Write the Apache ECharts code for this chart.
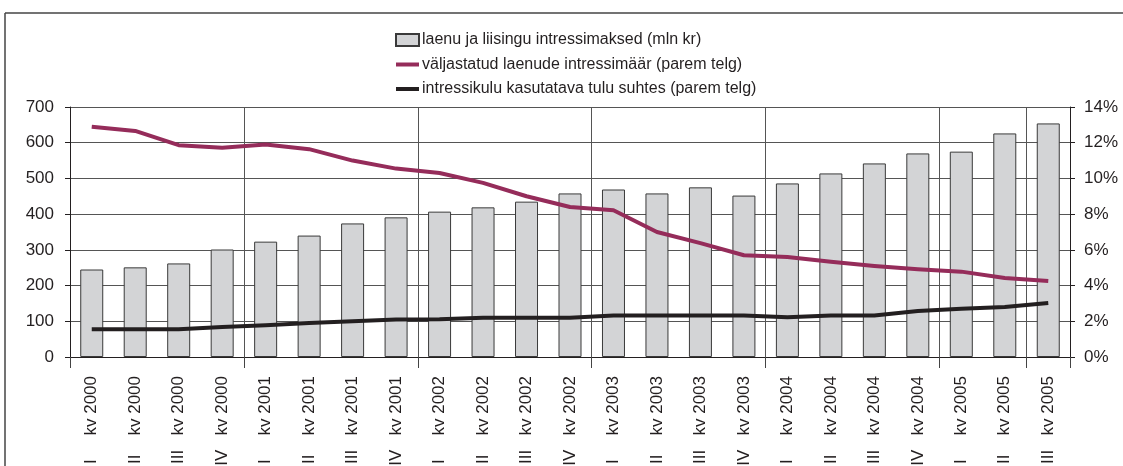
<!DOCTYPE html>
<html>
<head>
<meta charset="utf-8">
<script src="https://cdn.jsdelivr.net/npm/echarts@6/dist/echarts.min.js"></script>
<style>
  html, body { margin: 0; padding: 0; background: #fff; }
  #chart { width: 1123px; height: 466px; }
</style>
</head>
<body>
<div id="chart"></div>
<script>
//////////Data
var categories = [
  'I kv 2000', 'II kv 2000', 'III kv 2000', 'IV kv 2000',
  'I kv 2001', 'II kv 2001', 'III kv 2001', 'IV kv 2001',
  'I kv 2002', 'II kv 2002', 'III kv 2002', 'IV kv 2002',
  'I kv 2003', 'II kv 2003', 'III kv 2003', 'IV kv 2003',
  'I kv 2004', 'II kv 2004', 'III kv 2004', 'IV kv 2004',
  'I kv 2005', 'II kv 2005', 'III kv 2005'
];
// laenu ja liisingu intressimaksed (mln kr)
var intressimaksed = [245, 251, 262, 301, 323, 340, 374, 391, 407, 419, 435, 458,
  469, 458, 475, 452, 486, 514, 542, 570, 575, 626, 654];
// väljastatud laenude intressimäär (%)
var intressimaar = [12.9, 12.66, 11.86, 11.72, 11.9, 11.64, 11.0, 10.55, 10.3, 9.75, 9.0, 8.4,
  8.22, 7.0, 6.38, 5.7, 5.6, 5.33, 5.1, 4.92, 4.78, 4.42, 4.25];
// intressikulu kasutatava tulu suhtes (%)
var intressikulu = [1.55, 1.55, 1.55, 1.68, 1.78, 1.9, 2.0, 2.1, 2.12, 2.2, 2.2, 2.2,
  2.33, 2.33, 2.33, 2.33, 2.22, 2.33, 2.33, 2.58, 2.7, 2.8, 3.02];

var leftTicks = { min: 0, max: 700, interval: 100 };
var rightTicks = { min: 0, max: 14, interval: 2 };

var seriesNames = [
  'laenu ja liisingu intressimaksed (mln kr)',
  'väljastatud laenude intressimäär (parem telg)',
  'intressikulu kasutatava tulu suhtes (parem telg)'
];

var font = 'Arial, "Liberation Sans", sans-serif';
// joone ikoon legendis (23x12 kast, keskel 4px riba)
var lineIcon = 'path://M0,0L0,0M23,12L23,12M0,4L23,4L23,8L0,8Z';
// kvartali numbri ja "kv" vahe, et numbrid jääksid ühele joonele
var quarterPad = { 'I': 5, 'II': 4, 'III': 3, 'IV': 3 };

//////////Chart
var chart = echarts.init(document.getElementById('chart'));
var option = {
  animation: false,
  textStyle: { fontFamily: font, color: '#231f20' },
  grid: { left: 70, right: 53, top: 107, bottom: 109, outerBoundsMode: 'none', containLabel: false },
  legend: {
    orient: 'vertical',
    left: 395,
    top: 32,
    padding: 0,
    itemWidth: 23,
    itemHeight: 12,
    itemGap: 8.5,
    textStyle: { fontFamily: font, fontSize: 16, color: '#231f20', padding: [0, 0, 0, -2] },
    data: [
      { name: seriesNames[0], icon: 'rect' },
      { name: seriesNames[1], icon: lineIcon },
      { name: seriesNames[2], icon: lineIcon }
    ]
  },
  graphic: [
    { type: 'line', shape: { x1: 5, y1: 13, x2: 1123, y2: 13 }, style: { stroke: '#444', lineWidth: 1.5 } },
    { type: 'line', shape: { x1: 5, y1: 13, x2: 5, y2: 466 }, style: { stroke: '#444', lineWidth: 1.5 } }
  ],
  xAxis: {
    type: 'category',
    data: categories,
    boundaryGap: true,
    axisLine: { lineStyle: { color: '#231f20', width: 1 } },
    axisTick: { show: true, interval: 3, length: 11, lineStyle: { color: '#444' } },
    splitLine: { show: true, interval: 3, lineStyle: { color: '#555', width: 1 } },
    axisLabel: {
      interval: 0, rotate: 90, margin: 19, fontSize: 17, fontFamily: font, color: '#231f20',
      formatter: function (v) {
        var q = v.split(' ')[0];
        return q + new Array((quarterPad[q] || 1) + 1).join(' ') + v.slice(q.length + 1);
      }
    }
  },
  yAxis: [
    {
      type: 'value',
      min: leftTicks.min, max: leftTicks.max, interval: leftTicks.interval,
      axisLine: { show: true, lineStyle: { color: '#231f20' } },
      axisTick: { show: true, length: 5, lineStyle: { color: '#231f20' } },
      splitLine: { show: true, lineStyle: { color: '#555', width: 1 } },
      axisLabel: { margin: 16, fontSize: 17, fontFamily: font, color: '#231f20' }
    },
    {
      type: 'value',
      min: rightTicks.min, max: rightTicks.max, interval: rightTicks.interval,
      position: 'right',
      axisLine: { show: true, lineStyle: { color: '#231f20' } },
      axisTick: { show: true, length: 5, lineStyle: { color: '#231f20' } },
      splitLine: { show: false },
      axisLabel: { margin: 14, fontSize: 17, fontFamily: font, color: '#231f20', formatter: '{value}%' }
    }
  ],
  series: [
    {
      name: seriesNames[0],
      type: 'bar',
      data: intressimaksed,
      barWidth: 23,
      itemStyle: { color: '#d3d4d6', borderColor: '#3a3a3a', borderWidth: 1 }
    },
    {
      name: seriesNames[1],
      type: 'line',
      yAxisIndex: 1,
      data: intressimaar,
      symbol: 'none',
      color: '#952c5a',
      itemStyle: { color: '#952c5a' },
      lineStyle: { color: '#952c5a', width: 4, join: 'round' }
    },
    {
      name: seriesNames[2],
      type: 'line',
      yAxisIndex: 1,
      data: intressikulu,
      symbol: 'none',
      color: '#231f20',
      itemStyle: { color: '#231f20' },
      lineStyle: { color: '#231f20', width: 4, join: 'round' }
    }
  ]
};
chart.setOption(option);
</script>
</body>
</html>
